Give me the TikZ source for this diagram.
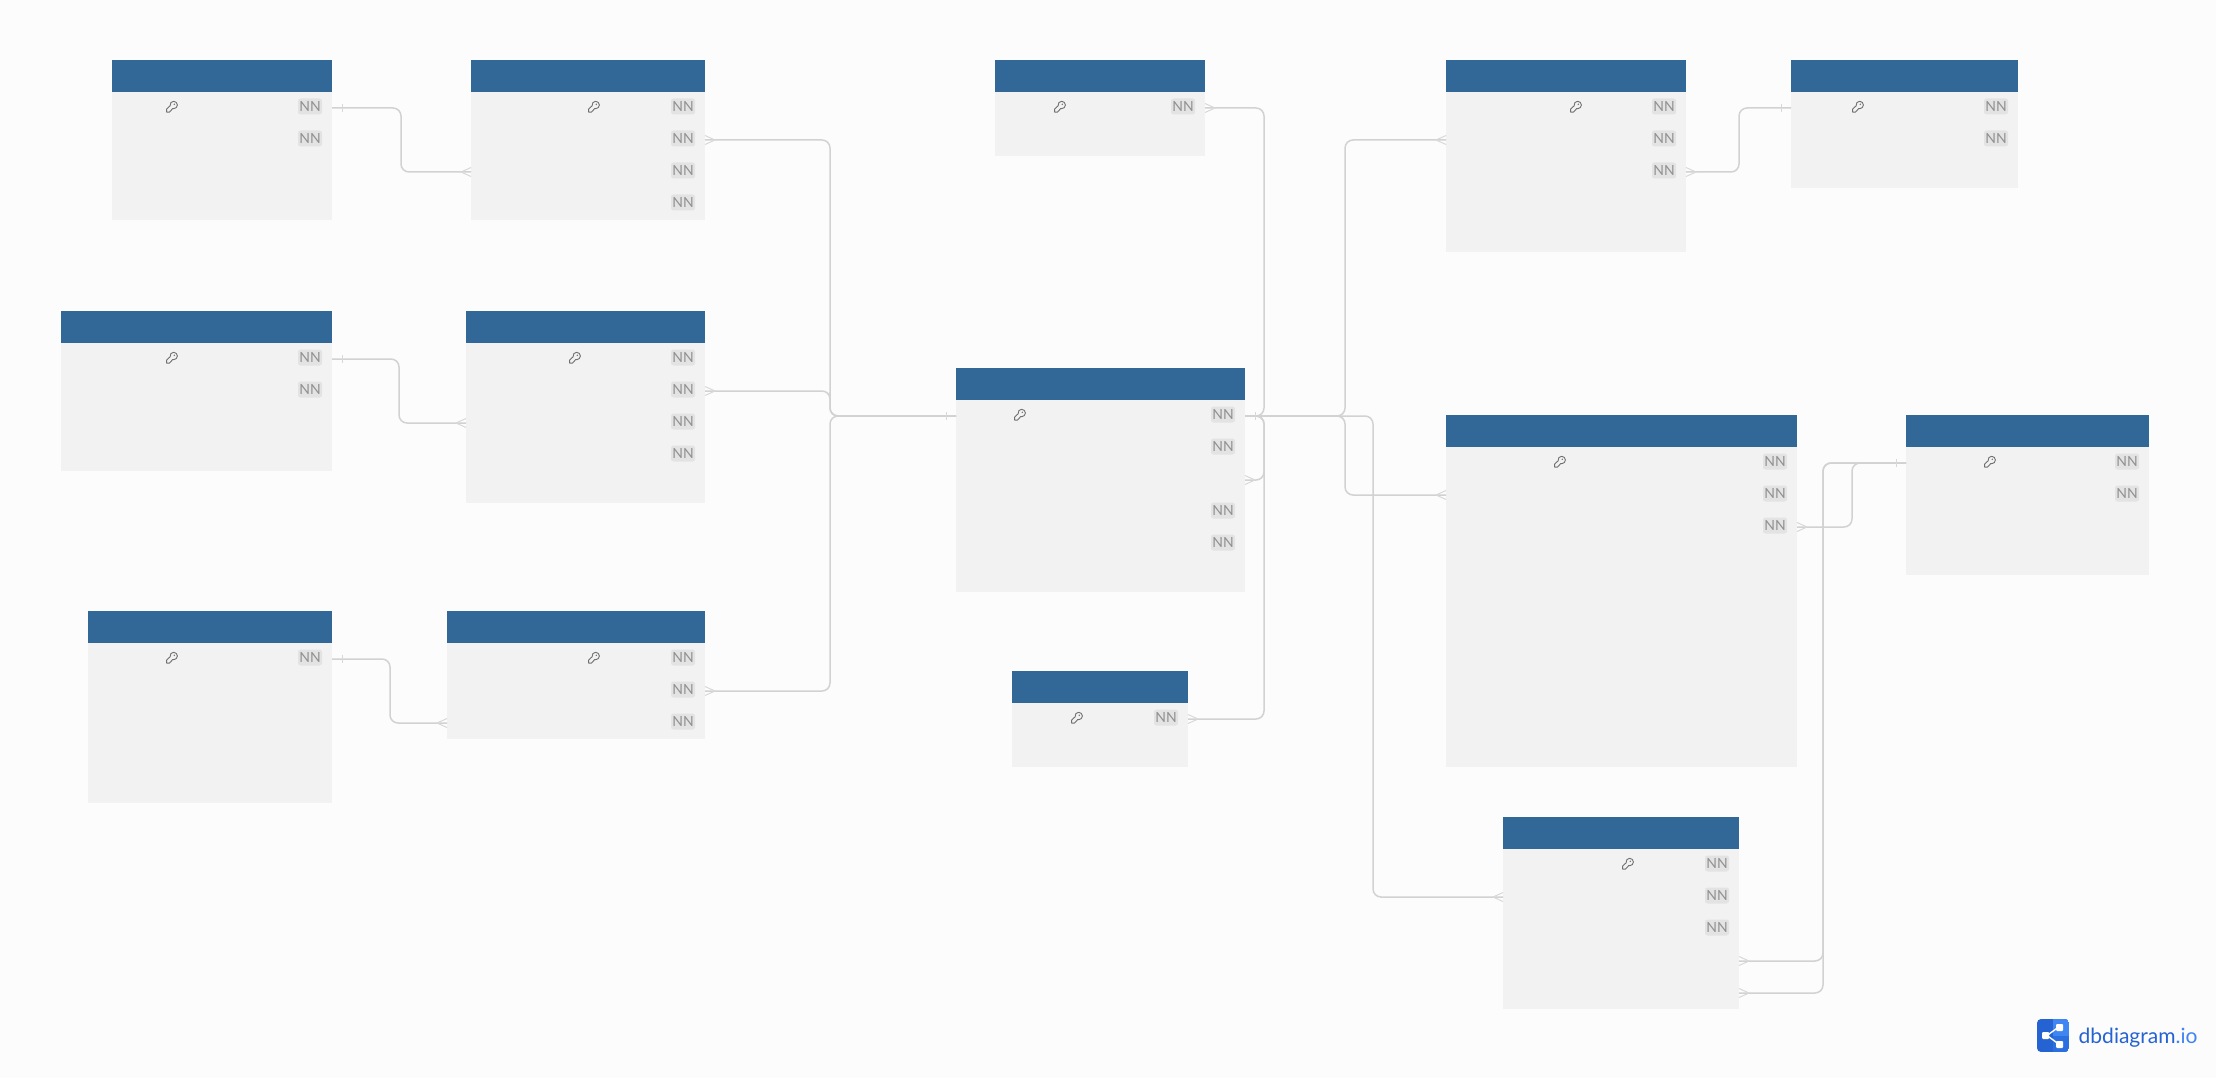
\documentclass[tikz,border=0pt]{standalone}
\usepackage{fontspec}
\setmainfont{Lato}
\definecolor{pagebg}{HTML}{FCFCFC}
\definecolor{bodyc}{HTML}{F2F2F2}
\definecolor{headc}{HTML}{316897}
\definecolor{badgec}{HTML}{E3E3E3}
\definecolor{nntext}{HTML}{909090}
\definecolor{keyc}{HTML}{707070}
\definecolor{linec}{HTML}{D2D2D2}
\definecolor{markc}{HTML}{D8D8D8}
\definecolor{logoA}{HTML}{2563D2}
\definecolor{logoB}{HTML}{3F86F2}
\definecolor{logoC}{HTML}{2C70E0}
\tikzset{
  x=1pt,y=-1pt,
  tbody/.style={fill=bodyc,draw=none,inner sep=0pt,outer sep=0pt,anchor=north west},
  thead/.style={fill=headc,draw=none,inner sep=0pt,outer sep=0pt,anchor=north west},
  nnbadge/.style={fill=badgec,rounded corners=2.5pt,inner sep=0pt,minimum width=24pt,minimum height=16pt,text=nntext,font=\fontsize{14}{14}\selectfont,anchor=center},
  conn/.style={draw=linec,line width=1.5pt,rounded corners=8pt},
  endmark/.style={draw=markc,line width=1pt},
  keyicon/.style={draw=keyc,line width=0.9pt,line join=round}
}
\newcommand{\keyat}[2]{%
  \begin{scope}[shift={(#1,#2)}]
    \draw[keyicon] (-5.4,2.4) -- (-1.9,-0.9) .. controls (-2.4,-3.6) and (-0.4,-5.4) .. (1.7,-5.4) .. controls (3.7,-5.4) and (5.4,-3.7) .. (5.4,-1.7) .. controls (5.4,0.3) and (3.7,2) .. (1.7,2) .. controls (1.3,2) and (1,1.9) .. (0.8,1.8) -- (-2.6,5.4) -- (-5.4,5.4) -- cycle;
    \fill[keyc] (2.3,-2.4) circle (0.8);
  \end{scope}}
% name, left, right, top, bottom, key x
\newcommand{\tbl}[6]{%
  \node[tbody,minimum width=#3-#2,minimum height=#5-#4] (#1) at (#2,#4) {};
  \node[thead,minimum width=#3-#2,minimum height=32pt] (#1h) at (#2,#4) {};
  \foreach \r in {1,...,6}{%
    \coordinate (#1L\r) at (#2,#4+16+32*\r);
    \coordinate (#1R\r) at (#3,#4+16+32*\r);
    \coordinate (#1B\r) at (#3-22,#4+14.5+32*\r);
  }
  \keyat{#6}{#4+46.7}}
\newcommand{\nn}[2]{\foreach \r in {#2}{\node[nnbadge] (#1N\r) at (#1B\r) {NN};}}
% one-end marker, from an edge coordinate, dir = +1 right of it / -1 left of it
\newcommand{\tick}[2]{\draw[endmark] ([xshift=#2*10pt,yshift=4pt]#1) -- ([xshift=#2*10pt,yshift=-4pt]#1);}
\newcommand{\crow}[2]{\draw[endmark] ([xshift=#2*10pt]#1) -- ([yshift=4.5pt]#1) ([xshift=#2*10pt]#1) -- ([yshift=-4.5pt]#1);}
\begin{document}
\begin{tikzpicture}
\useasboundingbox (0,0) rectangle (2216,1078);
\fill[pagebg] (0,0) rectangle (2216,1078);
\tbl{a}{112}{332}{60}{220}{172}
\tbl{b}{471}{705}{60}{220}{594}
\tbl{c}{61}{332}{311}{471}{172}
\tbl{d}{466}{705}{311}{503}{575}
\tbl{e}{88}{332}{611}{803}{172}
\tbl{f}{447}{705}{611}{739}{594}
\tbl{g}{995}{1205}{60}{156}{1060}
\tbl{h}{956}{1245}{368}{592}{1020}
\tbl{i}{1012}{1188}{671}{767}{1077}
\tbl{j}{1446}{1686}{60}{252}{1576}
\tbl{k}{1791}{2018}{60}{188}{1858}
\tbl{l}{1446}{1797}{415}{767}{1560}
\tbl{m}{1906}{2149}{415}{575}{1990}
\tbl{n}{1503}{1739}{817}{1009}{1628}
\nn{a}{1,2}\nn{b}{1,2,3,4}\nn{c}{1,2}\nn{d}{1,2,3,4}\nn{e}{1}\nn{f}{1,2,3}
\nn{g}{1}\nn{h}{1,2,4,5}\nn{i}{1}\nn{j}{1,2,3}\nn{k}{1,2}\nn{l}{1,2,3}\nn{m}{1,2}\nn{n}{1,2,3}
% connectors
\draw[conn] (aR1) -| (401,140) |- (bL3);
\draw[conn] (cR1) -| (399,390) |- (dL3);
\draw[conn] (eR1) -| (390,690) |- (fL3);
\draw[conn] (bR2) -| (830,280) |- (hL1);
\draw[conn] (dR2) -| (830,400) |- (hL1);
\draw[conn] (fR2) -| (830,550) |- (hL1);
\draw[conn] (hR1) -| (1264,250) |- (gR1);
\draw[conn] (hR1) -| (1264,570) |- (iR1);
\draw[conn] (hR3) -| (1264,448) |- (hR1);
\draw[conn] (hR1) -| (1345,280) |- (jL2);
\draw[conn] (hR1) -| (1345,450) |- (lL2);
\draw[conn] (hR1) -| (1373,650) |- (nL2);
\draw[conn] (jR3) -| (1739,140) |- (kL1);
\draw[conn] (lR3) -| (1852,495) |- (mL1);
\draw[conn] (nR4) -| (1823,700) |- (mL1);
\draw[conn] (nR5) -| (1823,700) |- (mL1);
% markers
\tick{aR1}{1}\crow{bL3}{-1}
\tick{cR1}{1}\crow{dL3}{-1}
\tick{eR1}{1}\crow{fL3}{-1}
\crow{bR2}{1}\crow{dR2}{1}\crow{fR2}{1}\tick{hL1}{-1}
\tick{hR1}{1}\crow{gR1}{1}\crow{iR1}{1}\crow{hR3}{1}
\crow{jL2}{-1}\crow{lL2}{-1}\crow{nL2}{-1}
\crow{jR3}{1}\tick{kL1}{-1}
\crow{lR3}{1}\tick{mL1}{-1}
\crow{nR4}{1}\crow{nR5}{1}
% logo
\begin{scope}
\clip[rounded corners=4pt] (2037,1019) rectangle (2069,1052);
\fill[logoA] (2037,1019) rectangle (2069,1052);
\fill[logoC] (2053,1019) rectangle (2069,1052);
\fill[logoB] (2053,1019) rectangle (2069,1036);
\end{scope}
\draw[white,line width=1.4pt] (2047,1035.5) -- (2060,1026) (2047,1035.5) -- (2060,1045);
\fill[white,rounded corners=1pt] (2042,1032) rectangle (2049,1039);
\fill[white,rounded corners=1pt] (2056,1024) rectangle (2063,1031);
\fill[white,rounded corners=1pt] (2056,1041) rectangle (2063,1048);
\node[anchor=base west,inner sep=0pt,font=\fontsize{21}{21}\selectfont] (logotext) at (2078.5,1043) {\textcolor{logoA}{dbdiagram}\textcolor{logoB}{.io}};
\end{tikzpicture}
\end{document}
